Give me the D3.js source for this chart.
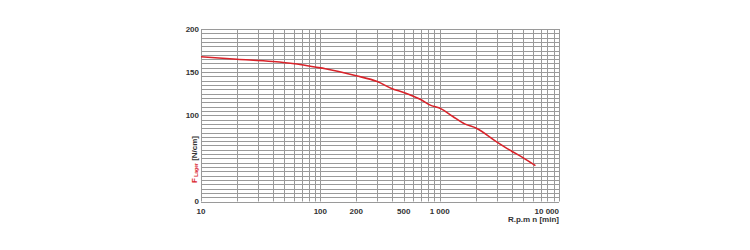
<!DOCTYPE html>
<html lang="en">
  <head>
    <meta charset="UTF-8" />
    <title>F Lager vs R.p.m</title>
    <script src="https://d3js.org/d3.v7.min.js"></script>
    <style>
      body { margin: 0; background: #fff; }
      svg text { font-family: 'Liberation Sans Narrow', 'Arial Narrow', 'Liberation Sans', sans-serif; font-weight: bold; fill: #333; }
    </style>
  </head>
  <body>
    <svg width="750" height="250"></svg>
    <script>
      // curve
      const rpm = [10, 20, 40, 61, 90, 110, 200, 300, 400, 500, 700, 825, 1030, 1290, 1620, 2030, 2980, 3850, 4980, 6350];
      const force = [167.8, 165, 162.4, 159.7, 155.9, 154, 145.8, 139, 130.7, 126.4, 117.9, 112, 107.4, 98.5, 90, 85, 69.5, 59.8, 50.9, 41.6];

      const xTicks = [10, 100, 200, 500, 1000, 10000];
      const xTickLabels = ['10', '100', '200', '500', '1 000', '10 000'];
      const yTicks = [0, 100, 150, 200];

      const svg = d3.select('svg');
      const mLeft = 201, mRight = 559, mTop = 29, mBottom = 201.5;

      const x = d3.scaleLog().domain([10, 10000]).range([mLeft, mRight]);
      const y = d3.scaleLinear().domain([0, 200]).range([mBottom, mTop]);

      // log grid: 1..9 in each decade
      const vGrid = [];
      for (let d = 10; d < 10000; d *= 10) for (let k = 1; k <= 9; k++) vGrid.push(d * k);
      vGrid.push(10000);
      const hGrid = d3.range(0, 201, 5);

      const grid = svg.append('g').attr('stroke', '#9a9a9a').attr('stroke-width', 1);
      grid.selectAll('line.v').data(vGrid).join('line')
        .attr('x1', d => Math.round(x(d)) + 0.5).attr('x2', d => Math.round(x(d)) + 0.5)
        .attr('y1', mTop).attr('y2', mBottom);
      grid.selectAll('line.h').data(hGrid).join('line')
        .attr('y1', d => Math.round(y(d)) + 0.5).attr('y2', d => Math.round(y(d)) + 0.5)
        .attr('x1', mLeft).attr('x2', mRight);

      const line = d3.line().x((d, i) => x(rpm[i])).y(d => y(d)).curve(d3.curveMonotoneX);
      svg.append('path').datum(force).attr('d', line)
        .attr('fill', 'none').attr('stroke', '#d9232a').attr('stroke-width', 1.6);

      // y tick labels
      svg.append('g').selectAll('text').data(yTicks).join('text')
        .attr('x', mLeft - 2).attr('y', d => y(d) + 2.5)
        .attr('text-anchor', 'end').attr('font-size', 8)
        .text(d => d);

      // x tick labels
      svg.append('g').selectAll('text').data(xTicks).join('text')
        .attr('x', d => d === 10000 ? mRight : x(d)).attr('y', 214)
        .attr('text-anchor', d => d === 10000 ? 'end' : 'middle').attr('font-size', 8)
        .text((d, i) => xTickLabels[i]);

      svg.append('text').attr('x', mRight).attr('y', 222)
        .attr('text-anchor', 'end').attr('font-size', 8)
        .text('R.p.m n [min]');

      const yt = svg.append('text')
        .attr('transform', 'translate(197,183) rotate(-90)')
        .attr('font-size', 8);
      yt.append('tspan').style('fill', '#d9232a').text('F');
      yt.append('tspan').style('fill', '#d9232a').attr('font-size', 5).attr('dy', 1).text(' Lager');
      yt.append('tspan').attr('dy', -1).text(' [N/cm]');
    </script>
  </body>
</html>
